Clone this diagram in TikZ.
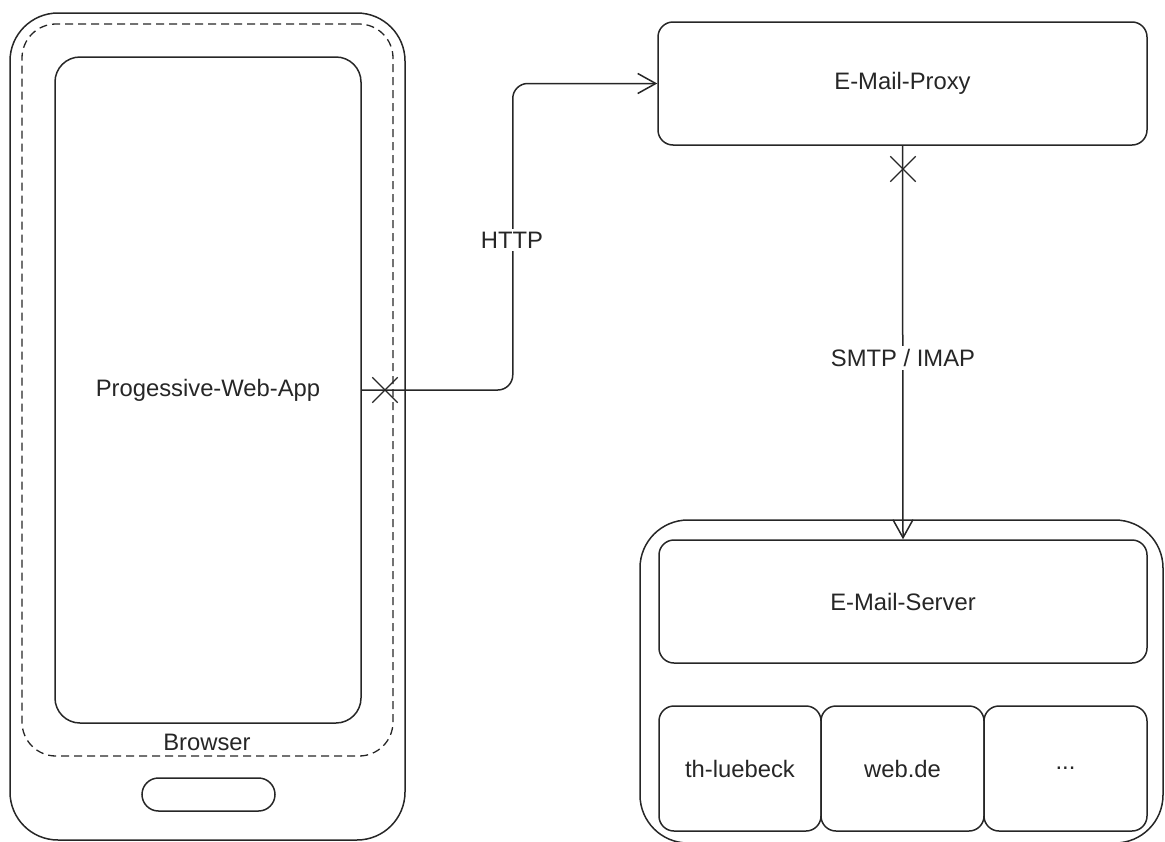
\documentclass[tikz,border=0pt]{standalone}
\usepackage{fontspec}
\setmainfont{Liberation Sans}
\usetikzlibrary{arrows.meta,shapes.misc}
\begin{document}
\begin{tikzpicture}[x=1pt,y=-1pt,
  lw/.style={line width=1.5pt, draw=black!85},
  box/.style={lw, rounded corners=#1, inner sep=0pt, font=\fontsize{23.8}{28}\selectfont, text=black!85},
  lbl/.style={font=\fontsize{23.8}{28}\selectfont, text=black!85},
  xmark/.style={cross out, draw=black!85, line width=1.3pt, minimum size=24pt, inner sep=0pt},
  tip/.style={-{Straight Barb[length=18pt,width=20pt]}}
]
\useasboundingbox (0,0) rectangle (1165,841);
\clip (0,0) rectangle (1165,841);
% phone
\node[box=48pt, minimum width=395pt, minimum height=827pt] (phone) at (207.5,426.5) {};
\node[box=34pt, line width=1.3pt, dash pattern=on 8pt off 5pt, minimum width=371pt, minimum height=732pt] (browser) at (207.5,390) {};
\node[box=25pt, minimum width=306pt, minimum height=666pt] (screen) at (208,390) {Progessive-Web-App};
\node[lbl] (blabel) at (207,742) {Browser};
\node[box=16.5pt, minimum width=133pt, minimum height=33pt] (home) at (208.5,794.5) {};
% proxy
\node[box=15pt, minimum width=489pt, minimum height=123pt] (proxy) at (902.5,83.5) {E-Mail-Proxy};
% server container
\node[box=48pt, minimum width=523pt, minimum height=323pt] (cont) at (901.5,681.5) {};
\node[box=15pt, minimum width=488pt, minimum height=123pt] (server) at (903,601.5) {E-Mail-Server};
\node[box=15pt, minimum width=162pt, minimum height=125pt] (th) at (740,768.5) {th-luebeck};
\node[box=15pt, minimum width=163pt, minimum height=125pt] (web) at (902.5,768.5) {web.de};
\node[box=15pt, minimum width=163pt, minimum height=125pt] (dots) at (1065.5,768.5) {...};
% connectors
\draw[lw, rounded corners=15pt, tip] (screen.east) -- ++(151,0) |- (proxy.west);
\draw[lw, tip] (proxy.south) -- (server.north);
\node[xmark] (x1) at (385,390) {};
\node[xmark] (x2) at (903,169) {};
\node[lbl, fill=white, inner sep=3pt] (http) at (512,240) {HTTP};
\node[lbl, fill=white, inner sep=3pt] (smtp) at (903,358) {SMTP / IMAP};
\end{tikzpicture}
\end{document}
